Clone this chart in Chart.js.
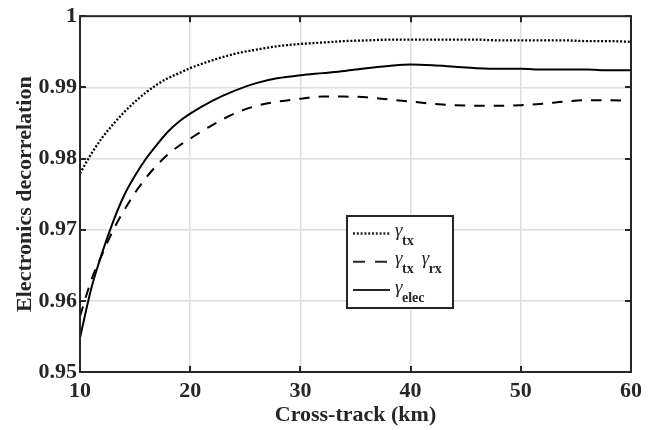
<!DOCTYPE html>
<html>
<head>
<meta charset="utf-8">
<script src="https://cdn.jsdelivr.net/npm/chart.js@4"></script>
<style>
  html, body { margin: 0; padding: 0; background: #fff; }
  #wrap { width: 664px; height: 430px; }
</style>
</head>
<body>
<div id="wrap"><canvas id="chart" width="664" height="430"></canvas></div>
<script>
// values
const crossTrack = [10, 11, 12, 13, 14, 15, 16, 17, 18, 19, 20, 22, 24, 26, 28, 30, 32, 34, 36, 38, 40, 42, 44, 46, 48, 50, 52, 54, 56, 58, 60];
const gammaTx = [0.9779, 0.9806, 0.9829, 0.9848, 0.9865, 0.9880, 0.9893, 0.9904, 0.9913, 0.9920, 0.9927, 0.9938, 0.9947, 0.9953, 0.9958, 0.9961, 0.9963, 0.9965, 0.9966, 0.9967, 0.9967, 0.9967, 0.9967, 0.9967, 0.9966, 0.9966, 0.9966, 0.9966, 0.9965, 0.9965, 0.9964];
const gammaTxRx = [0.9578, 0.9628, 0.9665, 0.9699, 0.9727, 0.9752, 0.9773, 0.9791, 0.9806, 0.9818, 0.9828, 0.9847, 0.9863, 0.9874, 0.9880, 0.9884, 0.9887, 0.9887, 0.9886, 0.9883, 0.9880, 0.9877, 0.9875, 0.9874, 0.9874, 0.9875, 0.9877, 0.9880, 0.9882, 0.9882, 0.9881];
const gammaElec = [0.9548, 0.9616, 0.9667, 0.9711, 0.9748, 0.9776, 0.9800, 0.9820, 0.9838, 0.9852, 0.9863, 0.9881, 0.9895, 0.9906, 0.9913, 0.9917, 0.9920, 0.9923, 0.9927, 0.9930, 0.9932, 0.9931, 0.9929, 0.9927, 0.9926, 0.9926, 0.9925, 0.9925, 0.9925, 0.9924, 0.9924];
const xTickLabels = ['10', '20', '30', '40', '50', '60'];
const yTickLabels = ['0.95', '0.96', '0.97', '0.98', '0.99', '1'];

const FONT = '"Liberation Serif", "Times New Roman", serif';
const INK = '#262626';

const toPoints = ys => crossTrack.map((x, i) => ({x: x, y: ys[i]}));

// legend rows: line dash for the sample, then the label pieces (gamma + subscript)
const legendRows = [
    {dash: [2, 1.8], parts: [['γ', 'tx']]},
    {dash: [12, 10], parts: [['γ', 'tx'], ['γ', 'rx']]},
    {dash: [], parts: [['γ', 'elec']]},
];

// MATLAB style box, inward ticks, axis titles and the legend
const matlabBox = {
    id: 'matlabBox',
    afterDraw(chart) {
        const {ctx, chartArea: a, scales} = chart;
        ctx.save();
        ctx.strokeStyle = INK;
        ctx.lineWidth = 2;
        const tick = 6;
        ctx.beginPath();
        scales.x.ticks.forEach(t => {
            const px = Math.round(scales.x.getPixelForValue(t.value));
            ctx.moveTo(px, a.bottom); ctx.lineTo(px, a.bottom - tick);
            ctx.moveTo(px, a.top); ctx.lineTo(px, a.top + tick);
        });
        scales.y.ticks.forEach(t => {
            const py = Math.round(scales.y.getPixelForValue(t.value));
            ctx.moveTo(a.left, py); ctx.lineTo(a.left + tick, py);
            ctx.moveTo(a.right, py); ctx.lineTo(a.right - tick, py);
        });
        ctx.stroke();
        ctx.strokeRect(a.left, a.top, a.right - a.left, a.bottom - a.top);

        // axis titles
        ctx.fillStyle = INK;
        ctx.font = 'bold 22px ' + FONT;
        ctx.textAlign = 'center';
        ctx.textBaseline = 'alphabetic';
        ctx.fillText('Cross-track (km)', (a.left + a.right) / 2, 421);
        ctx.save();
        ctx.translate(31, (a.top + a.bottom) / 2);
        ctx.rotate(-Math.PI / 2);
        ctx.fillText('Electronics decorrelation', 0, 0);
        ctx.restore();

        // legend
        const box = {x: 347, y: 216, w: 106, h: 92};
        ctx.fillStyle = '#fff';
        ctx.fillRect(box.x, box.y, box.w, box.h);
        ctx.strokeRect(box.x, box.y, box.w, box.h);
        ctx.textAlign = 'left';
        legendRows.forEach((row, i) => {
            const ly = 233.5 + i * 28.3;
            ctx.lineWidth = row.dash.length && row.dash[0] < 3 ? 2.3 : 2;
            ctx.setLineDash(row.dash);
            ctx.beginPath();
            ctx.moveTo(353, ly); ctx.lineTo(390, ly);
            ctx.stroke();
            ctx.setLineDash([]);
            let tx = 395;
            row.parts.forEach(([g, sub]) => {
                ctx.fillStyle = INK;
                ctx.font = 'italic 19px ' + FONT;
                ctx.fillText(g, tx, ly + 2.5);
                tx += ctx.measureText(g).width - 0.5;
                ctx.font = 'bold 14px ' + FONT;
                ctx.fillText(sub, tx, ly + 11.5);
                tx += ctx.measureText(sub).width + 8;
            });
        });
        ctx.restore();
    }
};

const baseLine = {
    fill: false,
    borderColor: '#000',
    borderWidth: 2,
    pointRadius: 0,
    cubicInterpolationMode: 'monotone',
};

new Chart(document.getElementById('chart').getContext('2d'), {
    type: 'line',
    data: {
        datasets: [
            {...baseLine, label: 'γtx', data: toPoints(gammaTx), borderDash: [2, 1.8], borderWidth: 2.3},
            {...baseLine, label: 'γtx γrx', data: toPoints(gammaTxRx), borderDash: [10.5, 9]},
            {...baseLine, label: 'γelec', data: toPoints(gammaElec)},
        ]
    },
    options: {
        responsive: false,
        animation: false,
        layout: {padding: {left: 0, top: 9, right: 33, bottom: 0}},
        plugins: {legend: {display: false}, tooltip: {enabled: false}},
        scales: {
            x: {
                type: 'linear',
                min: 10, max: 60,
                afterFit: s => { s.height = 58; },
                afterBuildTicks: s => { s.ticks = xTickLabels.map(v => ({value: Number(v)})); },
                ticks: {
                    color: INK,
                    padding: 6,
                    maxRotation: 0,
                    font: {family: FONT, size: 22, weight: 'bold'},
                    callback: (v, i) => xTickLabels[i],
                },
                grid: {color: '#dedede', lineWidth: 1.5, drawTicks: false},
                border: {display: false},
            },
            y: {
                type: 'linear',
                min: 0.95, max: 1,
                afterFit: s => { s.width = 80; },
                afterBuildTicks: s => { s.ticks = yTickLabels.map(v => ({value: Number(v)})); },
                ticks: {
                    color: INK,
                    padding: 3,
                    font: {family: FONT, size: 22, weight: 'bold'},
                    callback: (v, i) => yTickLabels[i],
                },
                grid: {color: '#dedede', lineWidth: 1.5, drawTicks: false},
                border: {display: false},
            }
        }
    },
    plugins: [matlabBox]
});
</script>
</body>
</html>
